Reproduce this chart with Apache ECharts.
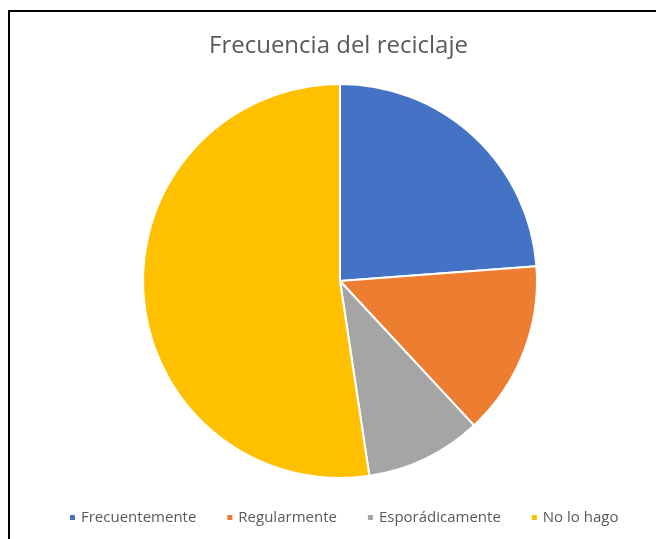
<!DOCTYPE html>
<html>
<head>
<meta charset="utf-8">
<script src="https://cdn.jsdelivr.net/npm/echarts@6/dist/echarts.min.js"></script>
<style>
  html, body { margin: 0; padding: 0; background: #fff; }
  #chart { width: 656px; height: 539px; }
</style>
</head>
<body>
<div id="chart"></div>
<script>
// datos de la encuesta
const categories = ['Frecuentemente', 'Regularmente', 'Esporádicamente', 'No lo hago'];
const values = [10, 6, 4, 22];
const colors = ['#4472C4', '#ED7D31', '#A5A5A5', '#FFC000'];

const chart = echarts.init(document.getElementById('chart'));

const option = {
  animation: false,
  color: colors,
  title: {
    text: 'Frecuencia del reciclaje',
    left: 204,
    top: 29,
    textStyle: {
      color: '#595959',
      fontFamily: 'Open Sans',
      fontSize: 24,
      fontWeight: 'normal'
    }
  },
  legend: {
    bottom: 9,
    left: 63,
    itemWidth: 7,
    itemHeight: 7,
    itemGap: 29,
    icon: 'rect',
    textStyle: {
      color: '#595959',
      fontFamily: 'Open Sans',
      fontSize: 15
    },
    data: categories
  },
  // marco del gráfico (solo izquierda y arriba visibles)
  graphic: [{
    type: 'polyline',
    shape: { points: [[9, 539], [9, 11], [656, 11]] },
    style: { stroke: '#000', lineWidth: 2, fill: null }
  }],
  series: [{
    type: 'pie',
    center: [340, 281],
    radius: 197,
    startAngle: 90,
    clockwise: true,
    label: { show: false },
    labelLine: { show: false },
    itemStyle: { borderColor: '#fff', borderWidth: 2 },
    data: categories.map((name, i) => ({ name: name, value: values[i] }))
  }]
};

chart.setOption(option);
</script>
</body>
</html>
